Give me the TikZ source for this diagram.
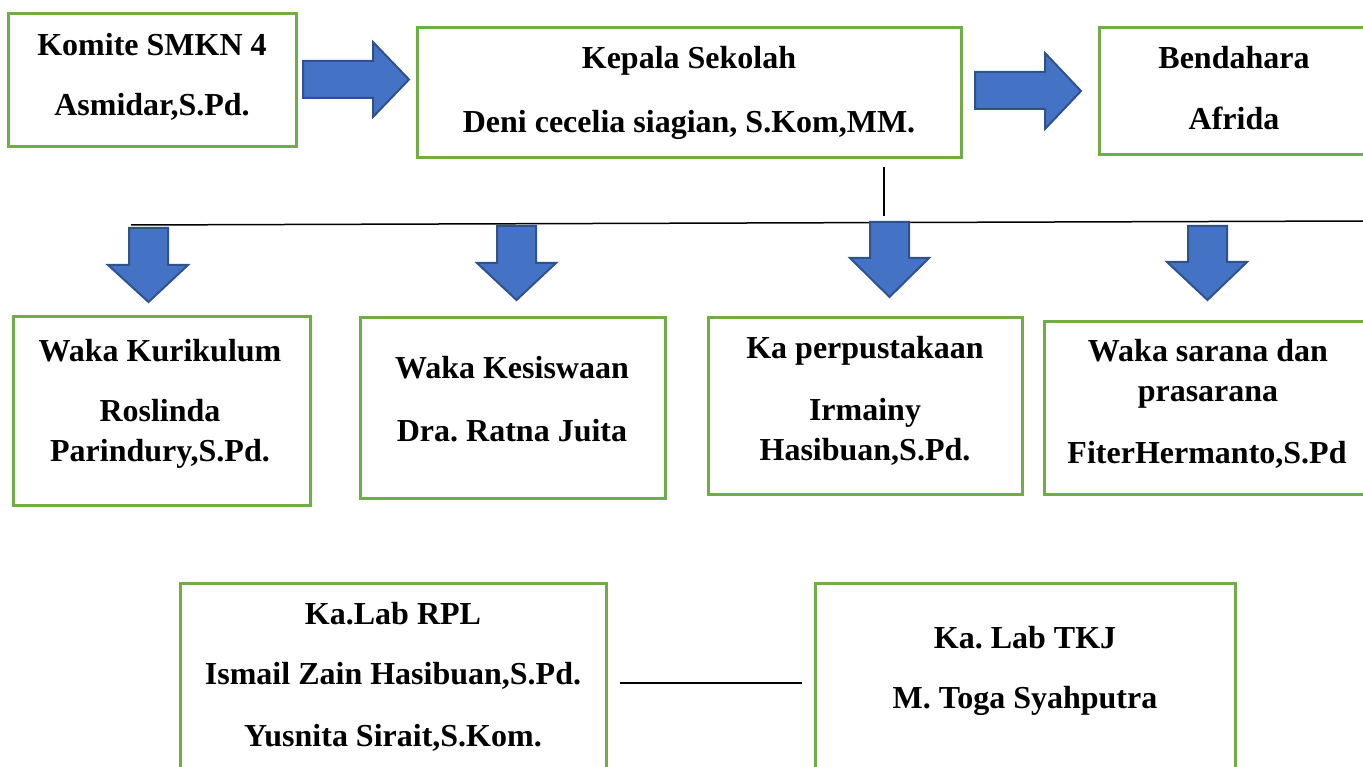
\documentclass[tikz,border=0pt]{standalone}
\usepackage{fontspec}
\setmainfont{Liberation Serif}
\definecolor{boxgreen}{HTML}{70AD47}
\definecolor{arrowfill}{HTML}{4472C4}
\definecolor{arrowedge}{HTML}{2F528F}
\tikzset{
  box/.style={draw=boxgreen, line width=3pt, fill=white, inner sep=0pt, rectangle},
  lbl/.style={anchor=base, inner sep=0pt, font=\fontsize{32}{38}\selectfont\bfseries\frenchspacing},
  blockarrow/.style={fill=arrowfill, draw=arrowedge, line width=2pt, line join=miter},
  conn/.style={draw=black, line width=1.5pt}
}
\begin{document}
\begin{tikzpicture}[x=1pt,y=-1pt]
\useasboundingbox (0,0) rectangle (1363,767);

% ---- top row boxes ----
\node[box, minimum width=288pt, minimum height=133pt] (komite) at (152,80.5) {};
\node[box, minimum width=544pt, minimum height=130pt] (kepala) at (689,93) {};
\node[box, minimum width=280pt, minimum height=127pt] (bendahara) at (1239,91) {};

\node[lbl] (komite1) at (152,56) {Komite SMKN 4};
\node[lbl] (komite2) at (152,116) {Asmidar,S.Pd.};
\node[lbl] (kepala1) at (689,69) {Kepala Sekolah};
\node[lbl] (kepala2) at (689,133) {Deni cecelia siagian, S.Kom,MM.};
\node[lbl] (bend1) at (1234,69) {Bendahara};
\node[lbl] (bend2) at (1234,130) {Afrida};

% ---- right block arrows ----
\draw[blockarrow] (303,61) -- (373,61) -- (373,42) -- (409,79.5) -- (373,117) -- (373,98) -- (303,98) -- cycle;
\draw[blockarrow] (975,72) -- (1045,72) -- (1045,53) -- (1081,91) -- (1045,129) -- (1045,109) -- (975,109) -- cycle;

% ---- connectors from Kepala ----
\coordinate (vtop) at (884,167);
\coordinate (vbot) at (884,216);
\coordinate (hl) at (131,225);
\coordinate (hr) at (1363,221);
\draw[conn] (vtop) -- (vbot);
\draw[conn] (hl) -- (hr);

% ---- down block arrows ----
\draw[blockarrow] (129,228) -- (168,228) -- (168,265) -- (188,265) -- (148.5,302) -- (108,265) -- (129,265) -- cycle;
\draw[blockarrow] (497,226) -- (536,226) -- (536,263) -- (556,263) -- (516.5,300) -- (477,263) -- (497,263) -- cycle;
\draw[blockarrow] (870,222) -- (909,222) -- (909,258) -- (929,258) -- (889.5,297) -- (850,258) -- (870,258) -- cycle;
\draw[blockarrow] (1188,226) -- (1227,226) -- (1227,262) -- (1247,262) -- (1207.5,300) -- (1167,262) -- (1188,262) -- cycle;

% ---- second row boxes ----
\node[box, minimum width=297pt, minimum height=188pt] (kurikulum) at (161.5,411) {};
\node[box, minimum width=305pt, minimum height=180pt] (kesiswaan) at (512.5,408) {};
\node[box, minimum width=314pt, minimum height=176pt] (perpus) at (865,406) {};
\node[box, minimum width=330pt, minimum height=172pt] (sarana) at (1209,408) {};

\node[lbl] (kur1) at (160,361) {Waka Kurikulum};
\node[lbl] (kur2) at (160,421) {Roslinda};
\node[lbl] (kur3) at (160,461) {Parindury,S.Pd.};
\node[lbl] (kes1) at (512,378) {Waka Kesiswaan};
\node[lbl] (kes2) at (512,441) {Dra. Ratna Juita};
\node[lbl] (per1) at (865,359) {Ka perpustakaan};
\node[lbl] (per2) at (865,420) {Irmainy};
\node[lbl] (per3) at (865,460) {Hasibuan,S.Pd.};
\node[lbl] (sar1) at (1208,361) {Waka sarana dan};
\node[lbl] (sar2) at (1208,401) {prasarana};
\node[lbl] (sar3) at (1207,463) {FiterHermanto,S.Pd};

% ---- third row boxes ----
\node[box, minimum width=426pt, minimum height=200pt] (rpl) at (393,683) {};
\node[box, minimum width=420pt, minimum height=200pt] (tkj) at (1025,683) {};

\node[lbl] (rpl1) at (393,624) {Ka.Lab RPL};
\node[lbl] (rpl2) at (393,684) {Ismail Zain Hasibuan,S.Pd.};
\node[lbl] (rpl3) at (393,746) {Yusnita Sirait,S.Kom.};
\node[lbl] (tkj1) at (1025,648) {Ka. Lab TKJ};
\node[lbl] (tkj2) at (1025,708) {M. Toga Syahputra};

\coordinate (ml) at (620,683);
\coordinate (mr) at (802,683);
\draw[conn] (ml) -- (mr);
\end{tikzpicture}
\end{document}
